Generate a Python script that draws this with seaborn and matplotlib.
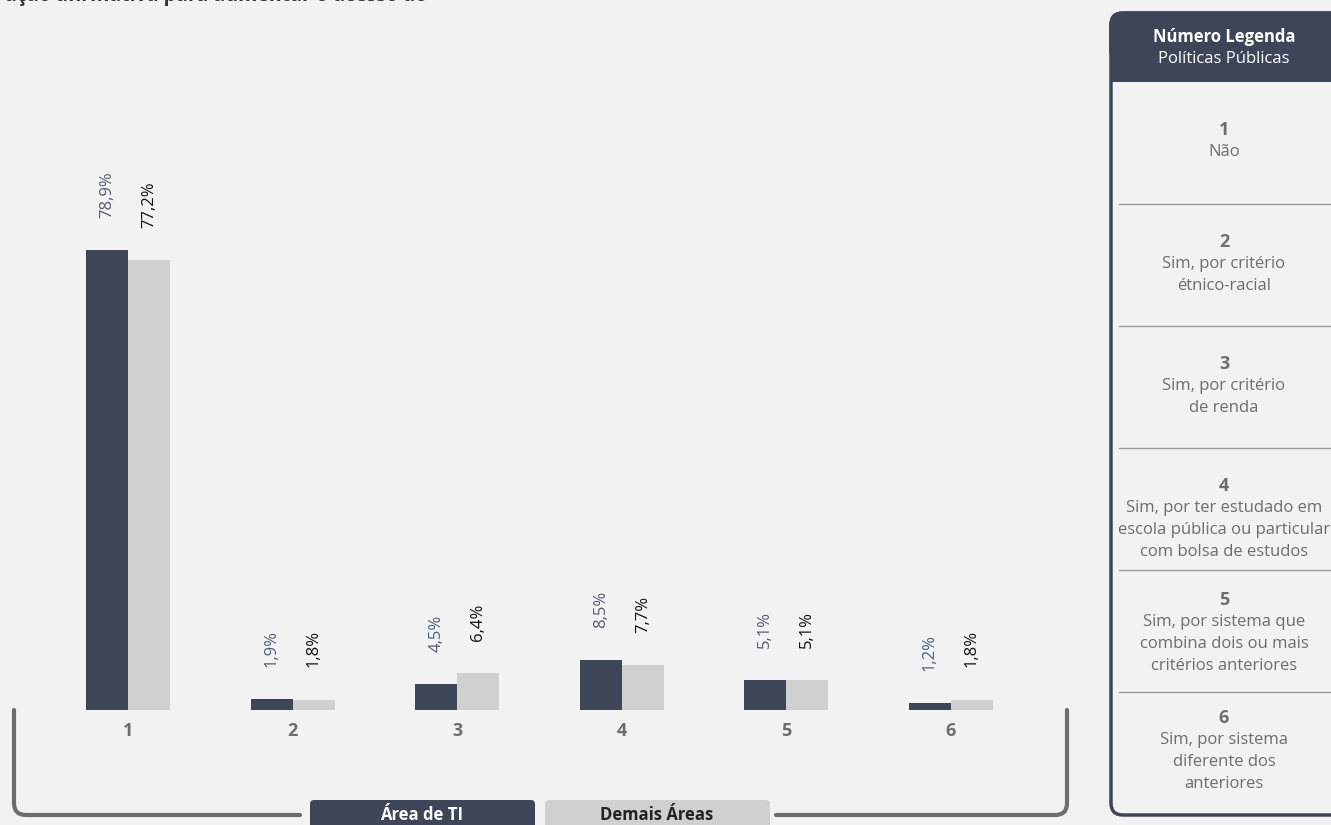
import numpy as np
import pandas as pd
import matplotlib
matplotlib.use("Agg")
import matplotlib.pyplot as plt
from matplotlib.patches import FancyBboxPatch, Rectangle, PathPatch
from matplotlib.path import Path
import seaborn as sns

# data
categorias = ["1", "2", "3", "4", "5", "6"]
area_ti = [78.9, 1.9, 4.5, 8.5, 5.1, 1.2]
demais_areas = [77.2, 1.8, 6.4, 7.7, 5.1, 1.8]
grupos = ["Área de TI", "Demais Áreas"]
legenda_itens = [
    ["Não"],
    ["Sim, por critério", "étnico-racial"],
    ["Sim, por critério", "de renda"],
    ["Sim, por ter estudado em", "escola pública ou particular", "com bolsa de estudos"],
    ["Sim, por sistema que", "combina dois ou mais", "critérios anteriores"],
    ["Sim, por sistema", "diferente dos", "anteriores"],
]
titulo = "ação afirmativa para aumentar o acesso ao"

BG = "#f2f2f2"
DARK = "#3d4559"
LIGHT = "#d0d0d0"
GRAY = "#6d6d6d"

sns.set_theme(style="white")
plt.rcParams["font.family"] = ["Open Sans", "DejaVu Sans"]

W, H = 1331, 825
fig = plt.figure(figsize=(W / 100, H / 100), dpi=100, facecolor=BG)

df = pd.DataFrame({
    "cat": categorias * 2,
    "valor": area_ti + demais_areas,
    "grupo": [grupos[0]] * 6 + [grupos[1]] * 6,
})

# bar axes (pixel layout: baseline at y=710, group spacing ~164.6px)
left_px, right_px = 45.7, 1033.3
bottom_px, top_px = 710, 127
ax = fig.add_axes([left_px / W, (H - bottom_px) / H,
                   (right_px - left_px) / W, (bottom_px - top_px) / H])
ax.set_facecolor("none")
sns.barplot(data=df, x="cat", y="valor", hue="grupo", palette=[DARK, LIGHT],
            width=0.51, saturation=1, linewidth=0, ax=ax, legend=False)
ax.set_xlim(-0.5, 5.5)
ax.set_ylim(0, 100)
for s in ax.spines.values():
    s.set_visible(False)
ax.set_yticks([])
ax.set_xlabel("")
ax.set_ylabel("")
ax.tick_params(axis="x", length=0, pad=9)
for lbl in ax.get_xticklabels():
    lbl.set_fontweight("bold")
    lbl.set_color(GRAY)
    lbl.set_fontsize(13)

bw = 0.51 / 2
for i in range(len(categorias)):
    ax.text(i - bw / 2, area_ti[i] + 5.5, f"{area_ti[i]:.1f}%".replace(".", ","),
            rotation=90, ha="center", va="bottom", fontsize=12, color="#545b70")
    ax.text(i + bw / 2, demais_areas[i] + 5.5, f"{demais_areas[i]:.1f}%".replace(".", ","),
            rotation=90, ha="center", va="bottom", fontsize=12, color="#111111")

# overlay axes in pixel coordinates
ov = fig.add_axes([0, 0, 1, 1])
ov.set_xlim(0, W)
ov.set_ylim(H, 0)
ov.axis("off")
ov.set_facecolor("none")

# partially visible title at the top (cut off in the source image)
ov.text(5, 1.5, titulo, fontsize=14, fontweight="bold", color="#333333",
        ha="left", va="baseline", clip_on=True)

# bracket
def bracket(points, ax_):
    verts, codes = [points[0]], [Path.MOVETO]
    for p in points[1:]:
        if p[0] == "c":
            verts += [p[1], p[2]]
            codes += [Path.CURVE3, Path.CURVE3]
        else:
            verts.append(p)
            codes.append(Path.LINETO)
    ax_.add_patch(PathPatch(Path(verts, codes), fill=False, lw=3, ec=GRAY,
                            capstyle="round", joinstyle="round"))

bracket([(14, 710), (14, 803), ("c", (14, 815), (26, 815)), (300, 815)], ov)
bracket([(776, 815), (1055, 815), ("c", (1067, 815), (1067, 803)), (1067, 710)], ov)

# legend boxes under the bracket
ov.add_patch(FancyBboxPatch((310, 800), 225, 40, boxstyle="round,pad=0,rounding_size=4",
                            fc=DARK, ec="none"))
ov.add_patch(FancyBboxPatch((545, 800), 225, 40, boxstyle="round,pad=0,rounding_size=4",
                            fc=LIGHT, ec="none"))
ov.text(422, 815, grupos[0], ha="center", va="center", fontsize=12,
        fontweight="bold", color="white")
ov.text(657, 815, grupos[1], ha="center", va="center", fontsize=12,
        fontweight="bold", color="#222222")

# right legend panel
ov.add_patch(FancyBboxPatch((1111, 13), 260, 802, boxstyle="round,pad=0,rounding_size=12",
                            fc="none", ec=DARK, lw=2.5))
ov.add_patch(FancyBboxPatch((1111, 13), 260, 50, boxstyle="round,pad=0,rounding_size=12",
                            fc=DARK, ec=DARK, lw=2.5))
ov.add_patch(Rectangle((1110, 40), 262, 42, fc=DARK, ec="none"))
cx = 1224
ov.text(cx, 37, "Número Legenda", ha="center", va="center", fontsize=12,
        fontweight="bold", color="white")
ov.text(cx, 59, "Políticas Públicas", ha="center", va="center", fontsize=12,
        color="white")

num_y = [130, 242, 364, 486, 600, 718]
for k, (ny, linhas) in enumerate(zip(num_y, legenda_itens)):
    ov.text(cx, ny, str(k + 1), ha="center", va="center", fontsize=13,
            fontweight="bold", color=GRAY)
    for j, t in enumerate(linhas):
        ov.text(cx, ny + 22 * (j + 1), t, ha="center", va="center", fontsize=12,
                color=GRAY)

for dy in [204, 326, 448, 570, 692]:
    ov.plot([1119, 1331], [dy, dy], color="#9a9a9a", lw=1)

fig.savefig("out.png", dpi=100, facecolor=BG)
